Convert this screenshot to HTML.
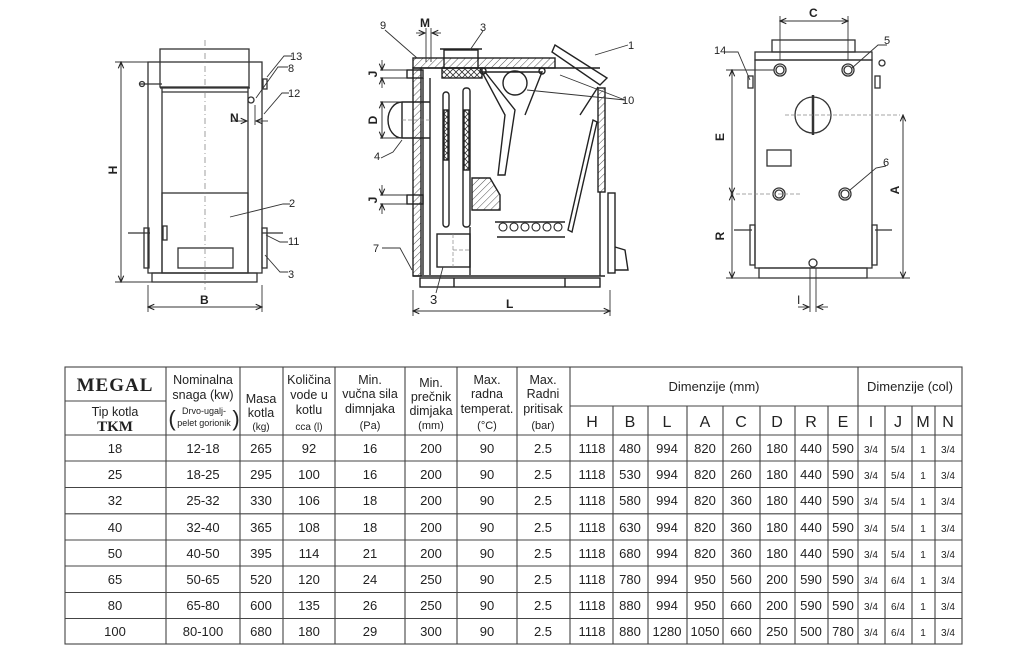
<!DOCTYPE html>
<html><head><meta charset="utf-8"><style>
html,body{margin:0;padding:0;background:#fff;}
svg{display:block;font-family:"Liberation Sans",sans-serif;}
</style></head><body>
<svg width="1024" height="654" viewBox="0 0 1024 654" xmlns="http://www.w3.org/2000/svg">
<defs>
<pattern id="h" width="5" height="5" patternUnits="userSpaceOnUse" patternTransform="rotate(45)"><line x1="0" y1="0" x2="0" y2="5" stroke="#555" stroke-width="1"/></pattern>
<pattern id="x" width="6" height="6" patternUnits="userSpaceOnUse"><path d="M0 0L6 6M6 0L0 6" stroke="#333" stroke-width="0.8"/></pattern>
<marker id="a" markerWidth="8" markerHeight="8" refX="7" refY="4" orient="auto"><path d="M0 1L7 4L0 7" fill="none" stroke="#222" stroke-width="1.2"/></marker>
</defs>

<!-- FRONT VIEW -->
<g stroke="#333" fill="none" stroke-width="1.3">
<rect x="160" y="49" width="89" height="38"/>
<rect x="148" y="62" width="114" height="211"/>
<line x1="162" y1="88" x2="162" y2="273"/><line x1="248" y1="88" x2="248" y2="273"/>
<line x1="160" y1="88" x2="250" y2="88"/><line x1="162" y1="92" x2="248" y2="92"/>
<rect x="162" y="193" width="86" height="80"/>
<rect x="152" y="273" width="105" height="9"/>
<rect x="178" y="248" width="55" height="20"/>
<line x1="140" y1="84" x2="162" y2="84"/><circle cx="142" cy="84" r="2.5"/>
<rect x="263" y="79" width="4" height="10"/>
<circle cx="251" cy="100" r="3"/>
<rect x="144" y="228" width="5" height="40"/><line x1="128" y1="233" x2="150" y2="233"/>
<rect x="262" y="228" width="5" height="40"/><line x1="262" y1="233" x2="283" y2="233"/>
<rect x="163" y="226" width="4" height="14"/>
</g>
<line x1="205" y1="40" x2="205" y2="290" stroke="#888" stroke-width="0.8" stroke-dasharray="6 3 1 3"/>
<g stroke="#333" stroke-width="0.9" fill="none">
<line x1="121" y1="62" x2="121" y2="282" marker-end="url(#a)"/><line x1="121" y1="282" x2="121" y2="62" marker-end="url(#a)"/>
<line x1="115" y1="62" x2="148" y2="62"/><line x1="115" y1="282" x2="152" y2="282"/>
<line x1="148" y1="285" x2="148" y2="312"/><line x1="262" y1="285" x2="262" y2="312"/>
<line x1="148" y1="307" x2="262" y2="307" marker-end="url(#a)"/><line x1="262" y1="307" x2="148" y2="307" marker-end="url(#a)"/>
<line x1="232" y1="121" x2="247" y2="121" marker-end="url(#a)"/><line x1="268" y1="121" x2="256" y2="121" marker-end="url(#a)"/>
<line x1="248" y1="105" x2="248" y2="125"/><line x1="255" y1="105" x2="255" y2="125"/>
<path d="M267 77L284 56H292M256 98L278 67H288M264 114L282 93H289M230 217L283 204H290M266 235L280 242H288M265 255L280 272H288"/>
</g>
<g font-size="11" fill="#222">
<text x="290" y="60">13</text><text x="288" y="72">8</text><text x="288" y="97">12</text><text x="289" y="207">2</text><text x="288" y="245">11</text><text x="288" y="278">3</text>
</g>
<g font-size="12" font-weight="bold" fill="#222">
<text x="230" y="122">N</text><text x="200" y="304">B</text>
<text transform="translate(117,170) rotate(-90)" text-anchor="middle">H</text>
</g>

<!-- SIDE SECTION -->
<g stroke="#222" stroke-width="1.4" fill="none">
<rect x="413" y="58" width="142" height="10" fill="url(#h)"/>
<rect x="413" y="68" width="8" height="208" fill="url(#h)"/>
<rect x="442" y="68" width="40" height="10" fill="url(#x)"/>
<rect x="444" y="50" width="34" height="18"/><line x1="440" y1="49" x2="482" y2="49"/>
<line x1="421" y1="68" x2="600" y2="68"/>
<line x1="430" y1="78" x2="430" y2="275"/><line x1="423" y1="78" x2="423" y2="275"/>
<rect x="407" y="70" width="16" height="8"/>
<rect x="407" y="195" width="16" height="9"/>
<path d="M430 102H402A14 18 0 0 0 402 138H430"/>
<line x1="402" y1="102" x2="402" y2="138"/>
<rect x="443" y="92" width="6" height="135" rx="3"/><rect x="463" y="88" width="7" height="139" rx="3"/>
<rect x="444" y="110" width="4" height="50" fill="url(#x)"/><rect x="464" y="110" width="5" height="60" fill="url(#x)"/>
<line x1="470" y1="227" x2="470" y2="275"/>
<rect x="437" y="234" width="33" height="33"/>
<path d="M472 178H490L500 195V210H472Z" fill="url(#h)"/>
<path d="M495 222H565M497 237H565" />
<g stroke-width="1.1"><circle cx="503" cy="227" r="4"/><circle cx="514" cy="227" r="4"/><circle cx="525" cy="227" r="4"/><circle cx="536" cy="227" r="4"/><circle cx="547" cy="227" r="4"/><circle cx="558" cy="227" r="4"/></g>
<path d="M485 72L515 110L505 175L498 175L505 115L482 72Z"/>
<path d="M485 72H542L525 115"/>
<circle cx="515" cy="83" r="12"/>
<circle cx="483" cy="71" r="3"/><circle cx="542" cy="71" r="3"/>
<path d="M555 45L607 78L600 85L552 52Z" fill="none"/>
<path d="M598 87L580 115"/>
<path d="M593 120L568 230L572 232L597 122Z"/>
<rect x="598" y="88" width="7" height="104" fill="url(#h)"/>
<line x1="600" y1="192" x2="600" y2="276"/>
<rect x="608" y="193" width="7" height="80"/>
<path d="M615 247L625 250L628 270H615"/>
<line x1="413" y1="276" x2="605" y2="276"/>
<rect x="420" y="278" width="180" height="9"/>
<line x1="454" y1="278" x2="454" y2="287"/><line x1="565" y1="278" x2="565" y2="287"/>
</g>
<g stroke="#888" stroke-width="0.7" stroke-dasharray="4 2" fill="none"><line x1="402" y1="120" x2="430" y2="120"/><line x1="453" y1="250" x2="470" y2="250"/><line x1="453" y1="234" x2="453" y2="267"/></g>
<g stroke="#333" stroke-width="0.9" fill="none">
<line x1="413" y1="290" x2="413" y2="316"/><line x1="610" y1="290" x2="610" y2="316"/>
<line x1="413" y1="311" x2="610" y2="311" marker-end="url(#a)"/><line x1="610" y1="311" x2="413" y2="311" marker-end="url(#a)"/>
<line x1="426" y1="28" x2="426" y2="62"/><line x1="431" y1="28" x2="431" y2="62"/>
<line x1="416" y1="33" x2="425" y2="33" marker-end="url(#a)"/><line x1="441" y1="33" x2="432" y2="33" marker-end="url(#a)"/>
<line x1="380" y1="70" x2="407" y2="70"/><line x1="380" y1="78" x2="407" y2="78"/>
<line x1="380" y1="195" x2="407" y2="195"/><line x1="380" y1="204" x2="407" y2="204"/>
<line x1="380" y1="102" x2="402" y2="102"/><line x1="380" y1="138" x2="402" y2="138"/>
<line x1="382" y1="102" x2="382" y2="138" marker-end="url(#a)"/><line x1="382" y1="138" x2="382" y2="102" marker-end="url(#a)"/>
<line x1="382" y1="60" x2="382" y2="70" marker-end="url(#a)"/><line x1="382" y1="88" x2="382" y2="78" marker-end="url(#a)"/>
<line x1="382" y1="185" x2="382" y2="195" marker-end="url(#a)"/><line x1="382" y1="214" x2="382" y2="204" marker-end="url(#a)"/>
<path d="M385 30L417 58M483 31L470 50M628 45L595 55M625 100L527 90M625 100L560 75M381 158L393 152L402 140M382 248L400 248L412 270M436 293L443 267"/>
</g>
<g font-size="11" fill="#222">
<text x="380" y="29">9</text><text x="480" y="31">3</text><text x="628" y="49">1</text><text x="622" y="104">10</text><text x="374" y="160">4</text><text x="373" y="252">7</text><text x="430" y="304" font-size="13">3</text>
</g>
<g font-size="12" font-weight="bold" fill="#222">
<text x="420" y="27">M</text><text x="506" y="308">L</text>
<text transform="translate(377,74) rotate(-90)" text-anchor="middle">J</text>
<text transform="translate(377,120) rotate(-90)" text-anchor="middle">D</text>
<text transform="translate(377,200) rotate(-90)" text-anchor="middle">J</text>
</g>

<!-- BACK VIEW -->
<g stroke="#333" stroke-width="1.3" fill="none">
<rect x="772" y="40" width="83" height="12"/>
<rect x="755" y="52" width="117" height="8"/>
<rect x="755" y="60" width="117" height="208"/>
<rect x="759" y="268" width="108" height="10"/>
<circle cx="780" cy="70" r="6"/><circle cx="780" cy="70" r="4"/>
<circle cx="848" cy="70" r="6"/><circle cx="848" cy="70" r="4"/>
<circle cx="779" cy="194" r="6"/><circle cx="779" cy="194" r="4"/>
<circle cx="845" cy="194" r="6"/><circle cx="845" cy="194" r="4"/>
<circle cx="813" cy="115" r="18"/>
<line x1="813" y1="95" x2="813" y2="135" stroke-width="2.5"/>
<circle cx="813" cy="263" r="4"/>
<rect x="767" y="150" width="24" height="16"/>
<rect x="750" y="225" width="5" height="40"/><line x1="734" y1="230" x2="752" y2="230"/>
<rect x="872" y="225" width="5" height="40"/><line x1="875" y1="230" x2="892" y2="230"/>
<rect x="748" y="76" width="5" height="12"/><rect x="875" y="76" width="5" height="12"/>
<circle cx="882" cy="63" r="3"/>
</g>
<g stroke="#888" stroke-width="0.7" stroke-dasharray="4 2"><line x1="785" y1="115" x2="900" y2="115"/><line x1="730" y1="194" x2="800" y2="194"/></g>
<g stroke="#333" stroke-width="0.9" fill="none">
<line x1="780" y1="16" x2="780" y2="60"/><line x1="848" y1="16" x2="848" y2="60"/>
<line x1="780" y1="21" x2="848" y2="21" marker-end="url(#a)"/><line x1="848" y1="21" x2="780" y2="21" marker-end="url(#a)"/>
<line x1="726" y1="70" x2="774" y2="70"/><line x1="726" y1="278" x2="910" y2="278"/>
<line x1="732" y1="70" x2="732" y2="194" marker-end="url(#a)"/><line x1="732" y1="194" x2="732" y2="70" marker-end="url(#a)"/>
<line x1="732" y1="194" x2="732" y2="278" marker-end="url(#a)"/><line x1="732" y1="278" x2="732" y2="194" marker-end="url(#a)"/>
<line x1="903" y1="115" x2="903" y2="278" marker-end="url(#a)"/><line x1="903" y1="278" x2="903" y2="115" marker-end="url(#a)"/>
<line x1="810" y1="268" x2="810" y2="312"/><line x1="816" y1="268" x2="816" y2="312"/>
<line x1="798" y1="307" x2="809" y2="307" marker-end="url(#a)"/><line x1="828" y1="307" x2="817" y2="307" marker-end="url(#a)"/>
<path d="M724 52L738 52L750 80M887 45L878 45L852 68M886 166L876 168L850 190"/>
</g>
<g font-size="11" fill="#222">
<text x="714" y="54">14</text><text x="884" y="44">5</text><text x="883" y="166">6</text>
</g>
<g font-size="12" font-weight="bold" fill="#222">
<text x="809" y="17">C</text><text x="797" y="304" font-weight="normal">I</text>
<text transform="translate(724,137) rotate(-90)" text-anchor="middle">E</text>
<text transform="translate(724,236) rotate(-90)" text-anchor="middle">R</text>
<text transform="translate(899,190) rotate(-90)" text-anchor="middle">A</text>
</g>

<!-- TABLE -->
<g stroke="#444" stroke-width="1.1" fill="none">
<rect x="65" y="367" width="897" height="277"/>
<line x1="65" y1="435" x2="962" y2="435"/>
<line x1="65" y1="401" x2="166" y2="401"/>
<line x1="570" y1="406" x2="962" y2="406"/>
<line x1="166" y1="367" x2="166" y2="644"/><line x1="240" y1="367" x2="240" y2="644"/>
<line x1="283" y1="367" x2="283" y2="644"/><line x1="335" y1="367" x2="335" y2="644"/>
<line x1="405" y1="367" x2="405" y2="644"/><line x1="457" y1="367" x2="457" y2="644"/>
<line x1="517" y1="367" x2="517" y2="644"/><line x1="570" y1="367" x2="570" y2="644"/>
<line x1="858" y1="367" x2="858" y2="644"/>
<line x1="613" y1="406" x2="613" y2="644"/><line x1="648" y1="406" x2="648" y2="644"/>
<line x1="687" y1="406" x2="687" y2="644"/><line x1="723" y1="406" x2="723" y2="644"/>
<line x1="760" y1="406" x2="760" y2="644"/><line x1="795" y1="406" x2="795" y2="644"/>
<line x1="828" y1="406" x2="828" y2="644"/><line x1="885" y1="406" x2="885" y2="644"/>
<line x1="912" y1="406" x2="912" y2="644"/><line x1="935" y1="406" x2="935" y2="644"/>
<line x1="65" y1="461" x2="962" y2="461"/><line x1="65" y1="487.5" x2="962" y2="487.5"/>
<line x1="65" y1="513.8" x2="962" y2="513.8"/><line x1="65" y1="540" x2="962" y2="540"/>
<line x1="65" y1="566" x2="962" y2="566"/><line x1="65" y1="592.5" x2="962" y2="592.5"/>
<line x1="65" y1="618.5" x2="962" y2="618.5"/>
</g>
<g fill="#222" text-anchor="middle" font-size="12.5">
<text x="115" y="391" font-family="Liberation Serif,serif" font-weight="bold" font-size="19" letter-spacing="1">MEGAL</text>
<text x="115" y="416">Tip kotla</text>
<text x="115" y="431" font-family="Liberation Serif,serif" font-weight="bold" font-size="15">TKM</text>
<text x="203" y="384">Nominalna</text><text x="203" y="399">snaga (kw)</text>
<text x="204" y="414" font-size="9">Drvo-ugalj-</text><text x="204" y="426" font-size="9">pelet gorionik</text>
<text x="172" y="426" font-size="22" font-weight="normal">(</text><text x="236" y="426" font-size="22">)</text>
<text x="261" y="403">Masa</text><text x="261" y="417">kotla</text><text x="261" y="430" font-size="10">(kg)</text>
<text x="309" y="384">Količina</text><text x="309" y="399">vode u</text><text x="309" y="414">kotlu</text><text x="309" y="430" font-size="10">cca (l)</text>
<text x="370" y="384">Min.</text><text x="370" y="398">vučna sila</text><text x="370" y="413">dimnjaka</text><text x="370" y="429" font-size="11">(Pa)</text>
<text x="431" y="387">Min.</text><text x="431" y="401">prečnik</text><text x="431" y="415">dimjaka</text><text x="431" y="429" font-size="11">(mm)</text>
<text x="487" y="384">Max.</text><text x="487" y="398">radna</text><text x="487" y="413">temperat.</text><text x="487" y="429" font-size="11">(°C)</text>
<text x="543" y="384">Max.</text><text x="543" y="398">Radni</text><text x="543" y="413">pritisak</text><text x="543" y="429" font-size="11">(bar)</text>
<text x="714" y="391" font-size="13">Dimenzije (mm)</text>
<text x="910" y="391" font-size="13">Dimenzije (col)</text>
<g font-size="16"><text x="592" y="427">H</text><text x="630" y="427">B</text><text x="667" y="427">L</text><text x="705" y="427">A</text><text x="741" y="427">C</text><text x="777" y="427">D</text><text x="811" y="427">R</text><text x="843" y="427">E</text><text x="871" y="427">I</text><text x="898" y="427">J</text><text x="923" y="427">M</text><text x="948" y="427">N</text></g>
</g>
<g fill="#222" text-anchor="middle" font-size="13">
<g transform="translate(0,453)"><text x="115">18</text><text x="203">12-18</text><text x="261">265</text><text x="309">92</text><text x="370">16</text><text x="431">200</text><text x="487">90</text><text x="543">2.5</text><text x="592">1118</text><text x="630">480</text><text x="667">994</text><text x="705">820</text><text x="741">260</text><text x="777">180</text><text x="811">440</text><text x="843">590</text><g font-size="10"><text x="871">3/4</text><text x="898">5/4</text><text x="923">1</text><text x="948">3/4</text></g></g>
<g transform="translate(0,479)"><text x="115">25</text><text x="203">18-25</text><text x="261">295</text><text x="309">100</text><text x="370">16</text><text x="431">200</text><text x="487">90</text><text x="543">2.5</text><text x="592">1118</text><text x="630">530</text><text x="667">994</text><text x="705">820</text><text x="741">260</text><text x="777">180</text><text x="811">440</text><text x="843">590</text><g font-size="10"><text x="871">3/4</text><text x="898">5/4</text><text x="923">1</text><text x="948">3/4</text></g></g>
<g transform="translate(0,505)"><text x="115">32</text><text x="203">25-32</text><text x="261">330</text><text x="309">106</text><text x="370">18</text><text x="431">200</text><text x="487">90</text><text x="543">2.5</text><text x="592">1118</text><text x="630">580</text><text x="667">994</text><text x="705">820</text><text x="741">360</text><text x="777">180</text><text x="811">440</text><text x="843">590</text><g font-size="10"><text x="871">3/4</text><text x="898">5/4</text><text x="923">1</text><text x="948">3/4</text></g></g>
<g transform="translate(0,532)"><text x="115">40</text><text x="203">32-40</text><text x="261">365</text><text x="309">108</text><text x="370">18</text><text x="431">200</text><text x="487">90</text><text x="543">2.5</text><text x="592">1118</text><text x="630">630</text><text x="667">994</text><text x="705">820</text><text x="741">360</text><text x="777">180</text><text x="811">440</text><text x="843">590</text><g font-size="10"><text x="871">3/4</text><text x="898">5/4</text><text x="923">1</text><text x="948">3/4</text></g></g>
<g transform="translate(0,558)"><text x="115">50</text><text x="203">40-50</text><text x="261">395</text><text x="309">114</text><text x="370">21</text><text x="431">200</text><text x="487">90</text><text x="543">2.5</text><text x="592">1118</text><text x="630">680</text><text x="667">994</text><text x="705">820</text><text x="741">360</text><text x="777">180</text><text x="811">440</text><text x="843">590</text><g font-size="10"><text x="871">3/4</text><text x="898">5/4</text><text x="923">1</text><text x="948">3/4</text></g></g>
<g transform="translate(0,584)"><text x="115">65</text><text x="203">50-65</text><text x="261">520</text><text x="309">120</text><text x="370">24</text><text x="431">250</text><text x="487">90</text><text x="543">2.5</text><text x="592">1118</text><text x="630">780</text><text x="667">994</text><text x="705">950</text><text x="741">560</text><text x="777">200</text><text x="811">590</text><text x="843">590</text><g font-size="10"><text x="871">3/4</text><text x="898">6/4</text><text x="923">1</text><text x="948">3/4</text></g></g>
<g transform="translate(0,610)"><text x="115">80</text><text x="203">65-80</text><text x="261">600</text><text x="309">135</text><text x="370">26</text><text x="431">250</text><text x="487">90</text><text x="543">2.5</text><text x="592">1118</text><text x="630">880</text><text x="667">994</text><text x="705">950</text><text x="741">660</text><text x="777">200</text><text x="811">590</text><text x="843">590</text><g font-size="10"><text x="871">3/4</text><text x="898">6/4</text><text x="923">1</text><text x="948">3/4</text></g></g>
<g transform="translate(0,636)"><text x="115">100</text><text x="203">80-100</text><text x="261">680</text><text x="309">180</text><text x="370">29</text><text x="431">300</text><text x="487">90</text><text x="543">2.5</text><text x="592">1118</text><text x="630">880</text><text x="667">1280</text><text x="705">1050</text><text x="741">660</text><text x="777">250</text><text x="811">500</text><text x="843">780</text><g font-size="10"><text x="871">3/4</text><text x="898">6/4</text><text x="923">1</text><text x="948">3/4</text></g></g>
</g>
</svg>
</body></html>
